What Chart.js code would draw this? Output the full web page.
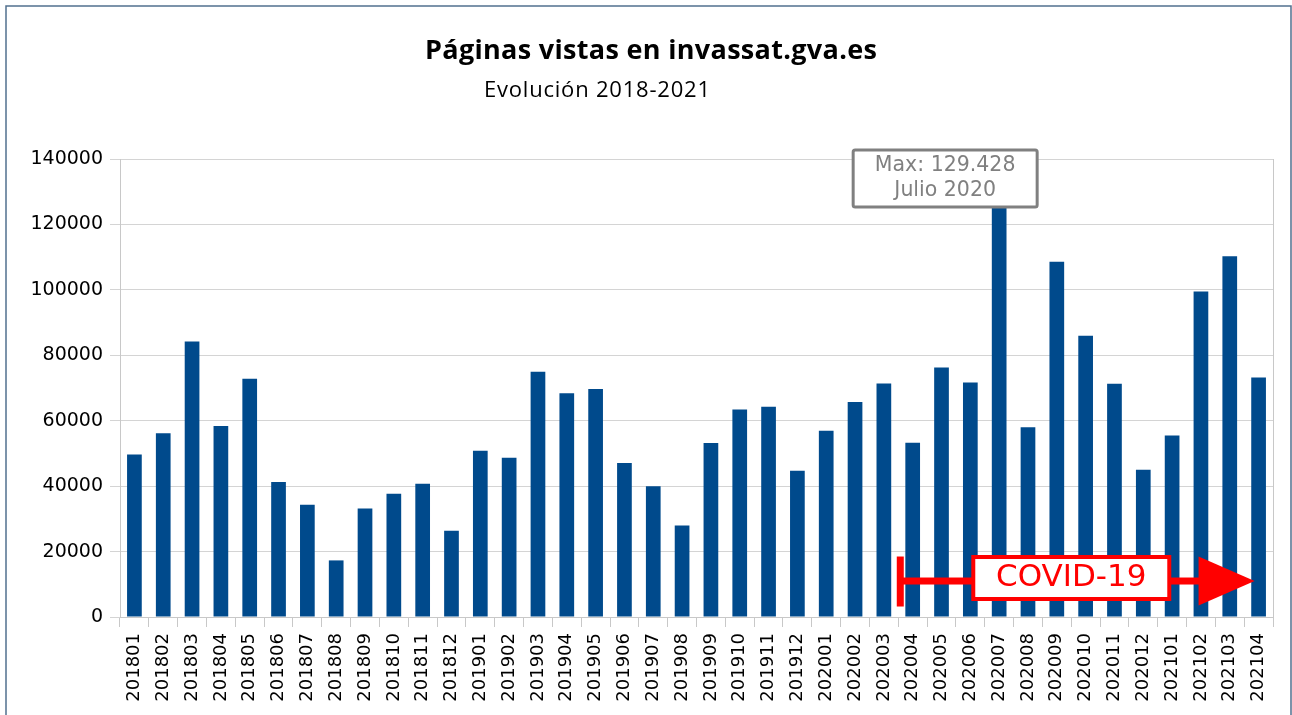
<!DOCTYPE html>
<html>
<head>
<meta charset="utf-8">
<script src="https://cdn.jsdelivr.net/npm/chart.js@4.4.0/dist/chart.umd.min.js"></script>
<style>
  html, body { margin: 0; padding: 0; background: #ffffff; }
  #wrap { position: relative; width: 1292px; height: 715px; }
  canvas { display: block; }
</style>
</head>
<body>
<div id="wrap"><canvas id="c" width="1292" height="715"></canvas></div>
<script>
const categories = [
  "201801","201802","201803","201804","201805","201806","201807","201808","201809","201810","201811","201812",
  "201901","201902","201903","201904","201905","201906","201907","201908","201909","201910","201911","201912",
  "202001","202002","202003","202004","202005","202006","202007","202008","202009","202010","202011","202012",
  "202101","202102","202103","202104"
];
const pageViews = [
  49700, 56200, 84200, 58400, 72800, 41300, 34300, 17300, 33200, 37700, 40700, 26400,
  50800, 48700, 75000, 68400, 69700, 47100, 40000, 28000, 53200, 63400, 64300, 44700,
  56900, 65700, 71400, 53300, 76300, 71700, 129428, 58000, 108600, 86000, 71300, 45000,
  55500, 99500, 110300, 73200
];
const yTicks = [0, 20000, 40000, 60000, 80000, 100000, 120000, 140000];
const titleText = "Páginas vistas en invassat.gva.es";
const subtitleText = "Evolución 2018-2021";
const maxLabelLines = ["Max: 129.428", "Julio 2020"];
const maxCategory = "202007";
const covidStart = "202004";
const covidEnd = "202104";
const covidLabel = "COVID-19";

function fitText(ctx, text, font, targetWidth) {
  ctx.font = font;
  ctx.letterSpacing = '0px';
  const w = ctx.measureText(text).width;
  const ls = (targetWidth - w) / Math.max(1, text.length - 1);
  ctx.letterSpacing = ls.toFixed(2) + 'px';
  return ctx.measureText(text).width;
}

const decor = {
  id: 'decor',
  beforeDraw(chart) {
    const ctx = chart.ctx;
    ctx.save();
    ctx.fillStyle = '#ffffff';
    ctx.fillRect(0, 0, chart.width, chart.height);
    // outer frame
    ctx.strokeStyle = '#52708e';
    ctx.lineWidth = 1.5;
    ctx.beginPath();
    ctx.moveTo(6, 715);
    ctx.lineTo(6, 6);
    ctx.lineTo(1291, 6);
    ctx.lineTo(1291, 715);
    ctx.stroke();
    // titles
    ctx.fillStyle = '#000000';
    ctx.textBaseline = 'alphabetic';
    ctx.textAlign = 'left';
    fitText(ctx, titleText, 'bold 27px "Open Sans"', 452);
    ctx.fillText(titleText, 425, 59);
    fitText(ctx, subtitleText, '22px "Open Sans"', 226);
    ctx.fillText(subtitleText, 484, 97);
    ctx.letterSpacing = '0px';
    ctx.restore();
  },
  beforeDatasetsDraw(chart) {
    const ctx = chart.ctx, a = chart.chartArea;
    ctx.save();
    ctx.strokeStyle = '#c8c8c8';
    ctx.lineWidth = 1;
    ctx.beginPath();
    ctx.moveTo(Math.round(a.right) + 0.5, a.top);
    ctx.lineTo(Math.round(a.right) + 0.5, a.bottom);
    ctx.stroke();
    ctx.restore();
  },
  afterDatasetsDraw(chart) {
    const ctx = chart.ctx;
    const xs = chart.scales.x, ys = chart.scales.y;
    ctx.save();
    // Max annotation box
    const mi = categories.indexOf(maxCategory);
    const bx = xs.getPixelForValue(mi) - 54;
    const bw = 184, bh = 57;
    const by = ys.getPixelForValue(140000) - 9;
    ctx.fillStyle = '#ffffff';
    ctx.strokeStyle = '#808080';
    ctx.lineWidth = 3;
    ctx.beginPath();
    ctx.roundRect(bx - bw / 2, by, bw, bh, 2);
    ctx.fill();
    ctx.stroke();
    ctx.fillStyle = '#808080';
    ctx.font = '20.5px "DejaVu Sans"';
    ctx.textAlign = 'center';
    ctx.textBaseline = 'middle';
    ctx.fillText(maxLabelLines[0], bx, by + 16);
    ctx.fillText(maxLabelLines[1], bx, by + 41);

    // COVID arrow
    const si = categories.indexOf(covidStart), ei = categories.indexOf(covidEnd);
    const x0 = (xs.getPixelForValue(si - 1) + xs.getPixelForValue(si)) / 2 + 2;
    const xTip = xs.getPixelForValue(ei) - 4;
    const yl = ys.getPixelForValue(11000);
    ctx.fillStyle = '#ff0000';
    ctx.strokeStyle = '#ff0000';
    ctx.fillRect(x0 - 3.5, yl - 24.5, 7, 50);
    ctx.fillRect(x0, yl - 3.5, xTip - 50 - x0, 7);
    ctx.beginPath();
    ctx.moveTo(xTip, yl);
    ctx.lineTo(xTip - 56, yl - 24.5);
    ctx.lineTo(xTip - 56, yl + 24.5);
    ctx.closePath();
    ctx.fill();
    const lx = x0 + 171;
    const lw = 196, lh = 42;
    ctx.fillStyle = '#ffffff';
    ctx.lineWidth = 4;
    ctx.beginPath();
    ctx.rect(lx - lw / 2, yl - 24, lw, lh);
    ctx.fill();
    ctx.stroke();
    ctx.fillStyle = '#ff0000';
    ctx.font = '31px "DejaVu Sans"';
    ctx.textAlign = 'center';
    ctx.textBaseline = 'middle';
    ctx.fillText(covidLabel, lx, yl - 3);
    ctx.restore();
  }
};

new Chart(document.getElementById('c'), {
  type: 'bar',
  data: {
    labels: categories,
    datasets: [{
      label: 'Páginas vistas',
      data: pageViews,
      backgroundColor: '#004a8c',
      borderWidth: 0,
      categoryPercentage: 1.0,
      barPercentage: 0.51
    }]
  },
  options: {
    responsive: false,
    animation: false,
    devicePixelRatio: 1,
    layout: { padding: { top: 159, right: 19, left: 0, bottom: 0 } },
    plugins: {
      legend: { display: false },
      title: { display: false },
      tooltip: { enabled: false }
    },
    scales: {
      x: {
        grid: {
          offset: true,
          drawOnChartArea: false,
          drawTicks: true,
          tickLength: 10,
          color: '#c8c8c8'
        },
        border: { display: true, color: '#c8c8c8' },
        ticks: {
          autoSkip: false,
          maxRotation: 90,
          minRotation: 90,
          padding: 6,
          color: '#000000',
          font: { family: '"DejaVu Sans"', size: 18 }
        },
        afterFit(s) { s.height = 98; }
      },
      y: {
        min: 0,
        max: 140000,
        afterBuildTicks(s) { s.ticks = yTicks.map(v => ({ value: v })); },
        grid: {
          color: '#d4d4d4',
          tickLength: 10,
          drawTicks: true
        },
        border: { display: true, color: '#c8c8c8' },
        ticks: {
          padding: 7,
          color: '#000000',
          font: { family: '"DejaVu Sans"', size: 19 },
          callback: v => String(v)
        },
        afterFit(s) { s.width = 120; }
      }
    }
  },
  plugins: [decor]
});
</script>
</body>
</html>
